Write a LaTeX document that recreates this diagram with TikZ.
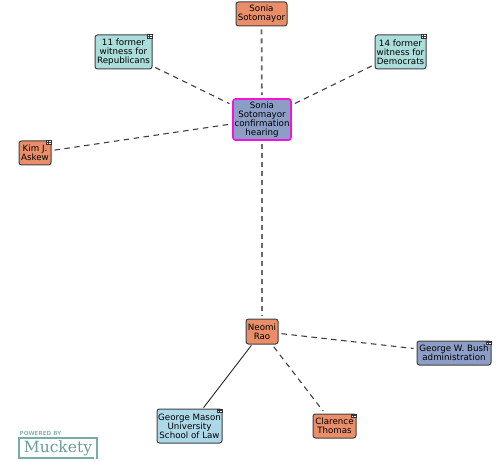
\documentclass[tikz,border=0pt]{standalone}
\usepackage{fontspec}
\setmainfont{DejaVu Sans}
\newfontfamily\logofont{DejaVu Serif}
\definecolor{orangebox}{HTML}{E98E68}
\definecolor{tealbox}{HTML}{ABDEDB}
\definecolor{bluebox}{HTML}{ACD8E8}
\definecolor{slatebox}{HTML}{8C9EC6}
\definecolor{edgegray}{HTML}{6A6A6A}
\definecolor{logoteal}{HTML}{76ADA8}
\tikzset{
  x=1pt,y=-1pt,
  box/.style={draw=black!75,line width=1pt,rounded corners=2.5pt,inner sep=0pt,align=center,
    font=\fontsize{8.7}{9}\selectfont,text=black},
  person/.style={box,fill=orangebox},
  group/.style={box,fill=tealbox},
  school/.style={box,fill=bluebox},
  org/.style={box,fill=slatebox},
  focus/.style={box,fill=slatebox,draw={rgb,255:red,240;green,20;blue,220},line width=1.6pt},
  link/.style={draw=black!75,line width=1.1pt,dash pattern=on 5.5pt off 4.5pt,shorten >=3pt,shorten <=3pt},
  heavy/.style={draw=edgegray,line width=1.8pt,dash pattern=on 5pt off 4pt,shorten >=3pt,shorten <=3pt},
  solidlink/.style={draw=black!85,line width=0.9pt,shorten >=1pt,shorten <=1pt},
}
\newcommand{\gridicon}[1]{%
  \draw[black!80,line width=0.4pt,fill=white] ([xshift=-5.5pt,yshift=-0.2pt]#1.north east) rectangle ([xshift=-0.7pt,yshift=-4pt]#1.north east);
  \draw[black!80,line width=0.35pt] ([xshift=-3.1pt,yshift=-0.2pt]#1.north east) -- ([xshift=-3.1pt,yshift=-4pt]#1.north east)
    ([xshift=-5.5pt,yshift=-2pt]#1.north east) -- ([xshift=-0.7pt,yshift=-2pt]#1.north east);
}
\begin{document}
\begin{tikzpicture}
\useasboundingbox (0,0) rectangle (500,462);
\node[person,minimum width=51pt,minimum height=24pt] (top) at (261.5,14) {Sonia\\Sotomayor};
\node[group,minimum width=57pt,minimum height=34pt] (rep) at (123.5,52) {11 former\\witness for\\Republicans};
\node[group,minimum width=51pt,minimum height=34pt] (dem) at (400.5,52) {14 former\\witness for\\Democrats};
\node[focus,minimum width=58pt,minimum height=41pt] (hear) at (262,119.5) {Sonia\\Sotomayor\\confirmation\\hearing};
\node[person,minimum width=32pt,minimum height=24pt] (kim) at (35,153) {Kim J.\\Askew};
\node[person,minimum width=32pt,minimum height=25pt] (rao) at (262,331.5) {Neomi\\Rao};
\node[org,minimum width=74pt,minimum height=24pt] (bush) at (454,353) {George W. Bush\\administration};
\node[person,minimum width=43pt,minimum height=24pt] (thomas) at (334.5,426) {Clarence\\Thomas};
\node[school,minimum width=65pt,minimum height=34pt] (gmu) at (189.5,426) {George Mason\\University\\School of Law};
\draw[heavy] (top) -- (hear);
\draw[heavy] (hear) -- (rao);
\draw[link] (rep) -- (hear);
\draw[link] (dem) -- (hear);
\draw[link] (kim) -- (hear);
\draw[link] (rao) -- (bush);
\draw[link] (rao) -- (thomas);
\draw[solidlink] (rao) -- (gmu);
\gridicon{rep}
\gridicon{dem}
\gridicon{kim}
\gridicon{bush}
\gridicon{thomas}
\gridicon{gmu}
\node[inner sep=0pt,text=logoteal!85,font=\fontsize{5.6}{6}\selectfont\bfseries] (pow) at (40.5,433.5) {POWERED BY};
\node[inner sep=0pt,text=logoteal!90!black,font=\fontsize{15.5}{16}\logofont,minimum width=78pt,minimum height=19pt] (logo) at (58,448) {Muckety};
\draw[logoteal,line width=1.7pt] ([yshift=-1pt]logo.south east) -- (logo.north east) -- (logo.north west) -- (logo.south west) -- ([xshift=-3pt]logo.south east);
\end{tikzpicture}
\end{document}
